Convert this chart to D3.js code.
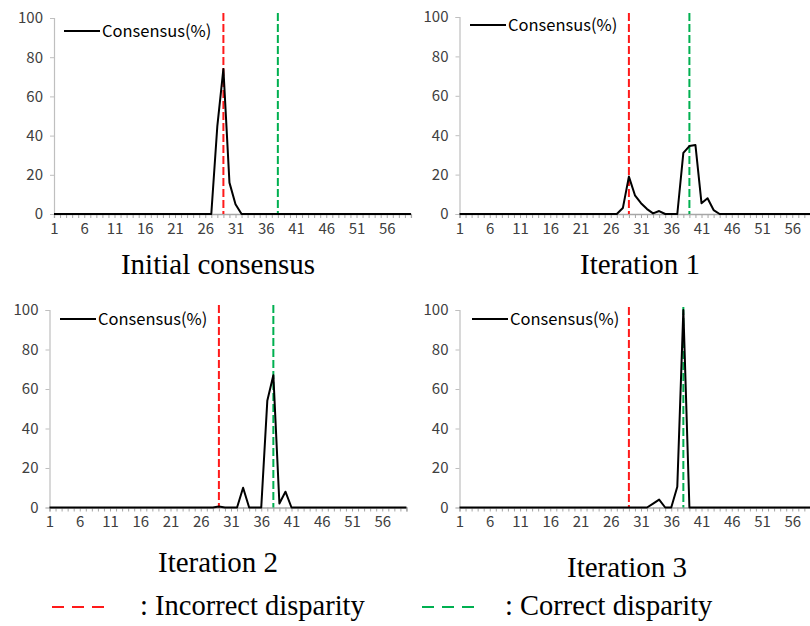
<!DOCTYPE html>
<html>
<head>
<meta charset="utf-8">
<script src="https://cdn.jsdelivr.net/npm/d3@7"></script>
<style>
  html, body { margin: 0; padding: 0; background: #fff; }
  svg { display: block; }
</style>
</head>
<body>
<svg id="chart" width="810" height="626"></svg>
<script>
// ---------------- DATA ----------------
const disparities = d3.range(1, 61); // categories 1..60
const xTickLabels = [1, 6, 11, 16, 21, 26, 31, 36, 41, 46, 51, 56];
const yTickLabels = [0, 20, 40, 60, 80, 100];

const consensusInitial = [
  0,0,0,0,0,0,0,0,0,0,
  0,0,0,0,0,0,0,0,0,0,
  0,0,0,0,0,0,0,45,74,16,
  5,0,0,0,0,0,0,0,0,0,
  0,0,0,0,0,0,0,0,0,0,
  0,0,0,0,0,0,0,0,0,0];
const consensusIter1 = [
  0,0,0,0,0,0,0,0,0,0,
  0,0,0,0,0,0,0,0,0,0,
  0,0,0,0,0,0,0,3,19,9.5,
  5.5,2.5,0.3,1.5,0,0,0,31,34.5,35,
  5.5,8,2,0,0,0,0,0,0,0,
  0,0,0,0,0,0,0,0,0,0];
const consensusIter2 = [
  0,0,0,0,0,0,0,0,0,0,
  0,0,0,0,0,0,0,0,0,0,
  0,0,0,0,0,0,0,0,0.5,0,
  0,0,10,0,0,0,54,67,2,8,
  0,0,0,0,0,0,0,0,0,0,
  0,0,0,0,0,0,0,0,0,0];
const consensusIter3 = [
  0,0,0,0,0,0,0,0,0,0,
  0,0,0,0,0,0,0,0,0,0,
  0,0,0,0,0,0,0,0,0,0,
  0,0,2,4,0,0,10.5,100,0,0,
  0,0,0,0,0,0,0,0,0,0,
  0,0,0,0,0,0,0,0,0,0];

const panelTitles = ["Initial consensus", "Iteration 1", "Iteration 2", "Iteration 3"];
const incorrectDisparity = [29, 29, 29, 29];
const correctDisparity = [38, 39, 38, 38];
const seriesName = "Consensus(%)";
const legendLabels = [": Incorrect disparity", ": Correct disparity"];

// ---------------- LAYOUT ----------------
const series = [consensusInitial, consensusIter1, consensusIter2, consensusIter3];
const layout = [
  {ax: 54,    top: 18,  zero: 214,   step: 6.05, refTop: 13,  legX: 64,  legY: 31, titleX: 218, titleY: 274},
  {ax: 459.5, top: 17,  zero: 214,   step: 6.05, refTop: 13,  legX: 470, legY: 25, titleX: 640, titleY: 274},
  {ax: 49.5,  top: 310, zero: 507.5, step: 6.05, refTop: 305, legX: 60,  legY: 319, titleX: 218, titleY: 572},
  {ax: 459.5, top: 310, zero: 507.5, step: 6.05, refTop: 307, legX: 472, legY: 319, titleX: 627, titleY: 577}
];
const RED = "#ff1a1a", GREEN = "#00b050";
const tickFont = "'Noto Sans CJK KR', 'Noto Sans', sans-serif";
const serif = "'Liberation Serif', 'Times New Roman', serif";

const svg = d3.select("#chart");

layout.forEach((L, i) => {
  const g = svg.append("g");
  const x = d3.scaleLinear().domain([1, 60]).range([L.ax, L.ax + 59 * L.step]);
  const y = d3.scaleLinear().domain([0, 100]).range([L.zero, L.top]);

  // x axis
  const xAxis = d3.axisBottom(x)
    .tickValues(disparities)
    .tickSize(4)
    .tickPadding(5)
    .tickFormat(d => xTickLabels.includes(d) ? d : "");
  const gx = g.append("g").attr("transform", `translate(0,${L.zero})`).call(xAxis);
  gx.select(".domain").attr("stroke", "#a6a6a6").attr("stroke-width", 1.3);
  gx.selectAll(".tick line").attr("stroke", "#a6a6a6");
  gx.selectAll(".tick text").attr("fill", "#404040")
    .style("font-family", tickFont).style("font-size", "15px");

  // y axis
  const yAxis = d3.axisLeft(y).tickValues(yTickLabels).tickSize(4).tickPadding(7);
  const gy = g.append("g").attr("transform", `translate(${L.ax},0)`).call(yAxis);
  gy.select(".domain").attr("stroke", "#bfbfbf").attr("stroke-width", 1.2);
  gy.selectAll(".tick line").attr("stroke", "#bfbfbf");
  gy.selectAll(".tick text").attr("fill", "#404040")
    .style("font-family", tickFont).style("font-size", "15px");

  // reference lines
  g.append("line")
    .attr("x1", x(incorrectDisparity[i])).attr("x2", x(incorrectDisparity[i]))
    .attr("y1", L.refTop).attr("y2", L.zero)
    .attr("stroke", RED).attr("stroke-width", 2).attr("stroke-dasharray", "8,3");
  g.append("line")
    .attr("x1", x(correctDisparity[i])).attr("x2", x(correctDisparity[i]))
    .attr("y1", L.refTop).attr("y2", L.zero)
    .attr("stroke", GREEN).attr("stroke-width", 2).attr("stroke-dasharray", "8,3");

  // data line
  const line = d3.line().x((d, k) => x(disparities[k])).y(d => y(d));
  g.append("path").datum(series[i])
    .attr("d", line).attr("fill", "none")
    .attr("stroke", "#000").attr("stroke-width", 2).attr("stroke-linejoin", "round");

  // legend
  g.append("line").attr("x1", L.legX).attr("x2", L.legX + 36)
    .attr("y1", L.legY).attr("y2", L.legY).attr("stroke", "#000").attr("stroke-width", 2);
  g.append("text").attr("x", L.legX + 38).attr("y", L.legY + 6)
    .style("font-family", tickFont).style("font-size", "16.5px").attr("fill", "#000")
    .text(seriesName);

  // title
  g.append("text").attr("x", L.titleX).attr("y", L.titleY)
    .attr("text-anchor", "middle")
    .style("font-family", serif).style("font-size", "29px").attr("fill", "#000")
    .text(panelTitles[i]);
});

// bottom legend
const bl = svg.append("g");
const legendItems = [
  {color: RED, x: 52, tx: 140},
  {color: GREEN, x: 422, tx: 505}
];
legendItems.forEach((it, k) => {
  bl.append("line").attr("x1", it.x).attr("x2", it.x + 52)
    .attr("y1", 607).attr("y2", 607)
    .attr("stroke", it.color).attr("stroke-width", 2).attr("stroke-dasharray", "12,8");
  bl.append("text").attr("x", it.tx).attr("y", 615)
    .style("font-family", serif).style("font-size", "28.5px").attr("fill", "#000")
    .text(legendLabels[k]);
});
</script>
</body>
</html>
